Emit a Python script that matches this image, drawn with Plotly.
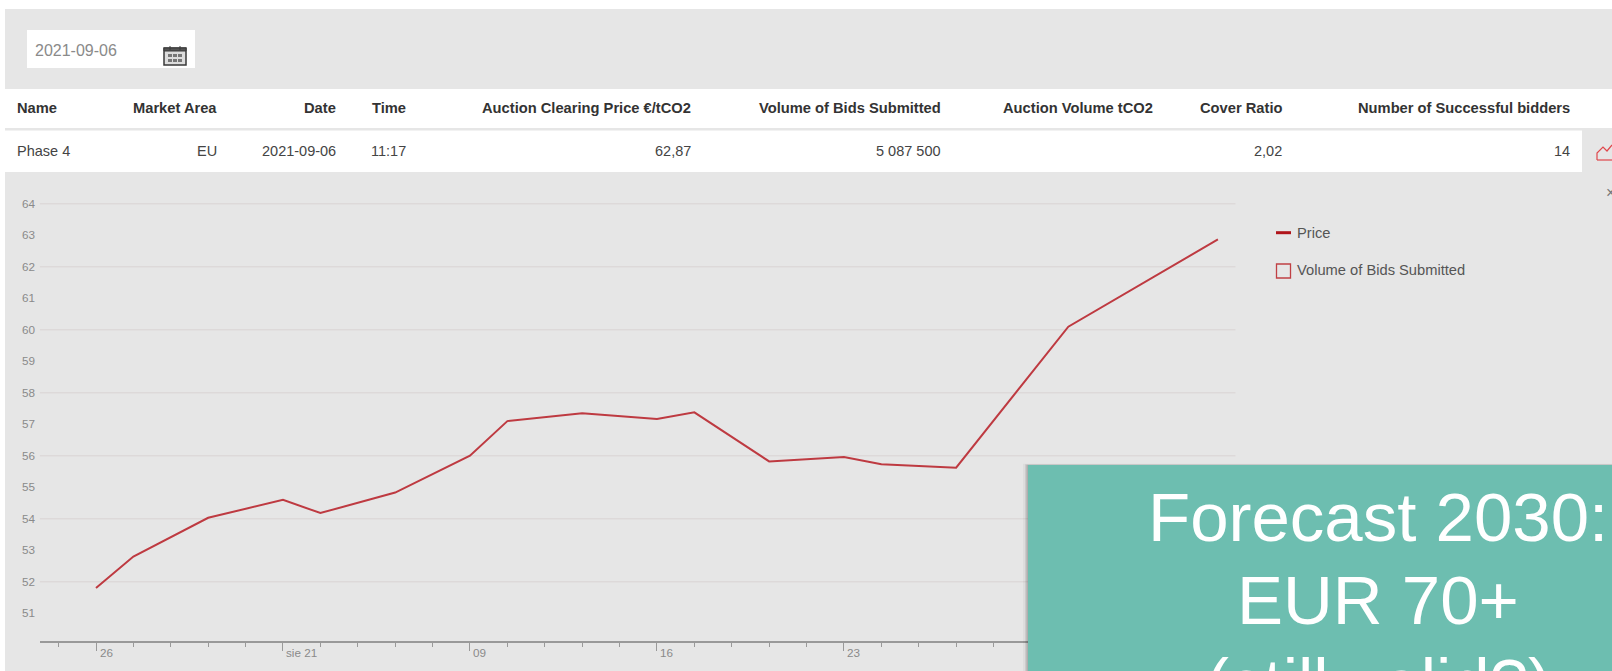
import pandas as pd
import plotly.graph_objects as go

# ---------- data ----------
auction_dates = ["2021-07-26", "2021-07-27", "2021-07-29", "2021-08-02", "2021-08-03", "2021-08-05",
                 "2021-08-09", "2021-08-10", "2021-08-12", "2021-08-16", "2021-08-17", "2021-08-19",
                 "2021-08-23", "2021-08-24", "2021-08-26", "2021-08-31", "2021-09-06"]
price = [51.80, 52.80, 54.03, 54.60, 54.18, 54.83, 56.00, 57.10, 57.35, 57.17, 57.38, 55.82,
         55.96, 55.73, 55.62, 60.10, 62.87]
y_ticks = [51, 52, 53, 54, 55, 56, 57, 58, 59, 60, 61, 62, 63, 64]
grid_values = [52, 54, 56, 58, 60, 62, 64]
major_dates = ["2021-07-26", "2021-08-02", "2021-08-09", "2021-08-16", "2021-08-23", "2021-08-30", "2021-09-06"]
x_label_dates = ["2021-07-26", "2021-08-02", "2021-08-09", "2021-08-16", "2021-08-23"]
x_labels = ["26", "sie 21", "09", "16", "23"]
headers = ["Name", "Market Area", "Date", "Time", "Auction Clearing Price €/tCO2",
           "Volume of Bids Submitted", "Auction Volume tCO2", "Cover Ratio", "Number of Successful bidders"]
row = ["Phase 4", "EU", "2021-09-06", "11:17", "62,87", "5 087 500", "", "2,02", "14"]
forecast_lines = ["Forecast 2030:", "EUR 70+", "(still valid?)"]

# ---------- layout constants ----------
W, H = 1612, 671
FONT = "Liberation Sans"
PANEL = "#E6E6E6"
col_right = [None, 217.5, 336.5, 406.5, 691.5, 942, 1153.5, 1282.5, 1570.5]
def X(p): return p / W
def Y(p): return 1 - p / H

def rect(x0, y0, x1, y1, fill, line=None, lw=0, layer="below", opacity=1):
    return dict(type="rect", xref="paper", yref="paper", x0=X(x0), x1=X(x1), y0=Y(y0), y1=Y(y1),
                fillcolor=fill, line=dict(color=line or fill, width=lw), layer=layer, opacity=opacity)
def seg(x0, y0, x1, y1, color, lw=1, layer="below"):
    return dict(type="line", xref="paper", yref="paper", x0=X(x0), x1=X(x1), y0=Y(y0), y1=Y(y1),
                line=dict(color=color, width=lw), layer=layer)
def label(x, y, text, size, color, anchor="left", bold=False):
    return dict(xref="paper", yref="paper", x=X(x), y=Y(y), xanchor=anchor, yanchor="middle",
                text=f"<b>{text}</b>" if bold else text, showarrow=False, borderpad=0,
                font=dict(family=FONT, size=size, color=color))

shapes = [
    rect(5, 9, W, 89, PANEL),
    rect(5, 128, W, 130.5, PANEL),
    rect(5, 172, W, H, PANEL),
    rect(1582, 130, W, 172, PANEL),
    rect(27, 30, 195, 68, "#FFFFFF"),
    # calendar icon
    rect(164, 48, 186, 65, "#DDDDDD", "#3A3A3A", 1.5),
    rect(164, 48, 186, 51, "#555555", "#3A3A3A", 1),
    seg(170, 46, 170, 50, "#3A3A3A", 1), seg(180, 46, 180, 50, "#3A3A3A", 1),
    rect(168, 54, 172, 57, "#777777"), rect(173, 54, 177, 57, "#777777"), rect(178, 54, 182, 57, "#777777"),
    rect(168, 59, 172, 62, "#777777"), rect(173, 59, 177, 62, "#777777"), rect(178, 59, 182, 62, "#777777"),
    # row chart icon, cut by the window edge
    dict(type="path", xref="paper", yref="paper", layer="below",
         path=f"M {X(1597)} {Y(160)} L {X(1597)} {Y(153)} L {X(1603)} {Y(147)} L {X(1607)} {Y(151)} L {X(1612)} {Y(145)}",
         line=dict(color="#E0474C", width=1.2)),
    seg(1597, 160, W, 160, "#E0474C", 1.2),
    # manual legend
    seg(1276, 232.7, 1291, 232.7, "#B0141A", 3),
    rect(1276.5, 264, 1290.5, 278, "rgba(0,0,0,0)", "#C04044", 1.3),
]
for v in grid_values:
    shapes.append(dict(type="line", xref="x domain", yref="y", x0=0, x1=1, y0=v, y1=v,
                       line=dict(color="#DDD9D9", width=1.5), layer="below"))
# teal box shadow, then box
for off, op in [(5, 0.04), (3, 0.08), (1.5, 0.14)]:
    shapes.append(rect(1028 - off, 465 - off / 4, W, H, "#000000", layer="above", opacity=op))
shapes.append(rect(1028, 465, W, H, "#6DBEB0", layer="above"))

annotations = [label(34, 50, "2021-09-06", 16, "#8A8A8A"), label(1605, 192, "×", 16, "#777777"),
               label(1296, 232.7, "Price", 14.7, "#555555"),
               label(1296, 270, "Volume of Bids Submitted", 14.7, "#555555")]
for i, (h, r) in enumerate(zip(headers, row)):
    if i == 0:
        annotations += [label(15.5, 108, h, 14.7, "#333333", bold=True), label(15.5, 150.7, r, 14.5, "#444444")]
    else:
        annotations.append(label(col_right[i], 108, h, 14.7, "#333333", "right", True))
        if r:
            annotations.append(label(col_right[i], 150.7, r, 14.5, "#444444", "right"))
for d, t in zip(x_label_dates, x_labels):
    annotations.append(dict(xref="x", yref="paper", x=d, y=Y(652), xanchor="left", yanchor="middle", xshift=1.5,
                            text=t, showarrow=False, font=dict(family=FONT, size=11.7, color="#8A8A8A")))
for y, t in zip([517, 600, 683], forecast_lines):
    annotations.append(label(1378, y, t, 69, "#FFFFFF", "center"))

fig = go.Figure(go.Scatter(x=auction_dates, y=price, mode="lines", name="Price",
                           line=dict(color="#BE3A41", width=2), showlegend=False))
fig.update_layout(
    width=W, height=H, margin=dict(l=0, r=0, t=0, b=0, autoexpand=False),
    paper_bgcolor="#FFFFFF", plot_bgcolor="rgba(0,0,0,0)", showlegend=False,
    font=dict(family=FONT), shapes=shapes, annotations=annotations,
    xaxis=dict(domain=[X(39.9), X(1235.5)], range=["2021-07-22 12:00", "2021-09-06 11:17"],
               rangebreaks=[dict(bounds=["sat", "mon"])],
               tickmode="array", tickvals=major_dates, showticklabels=False,
               ticks="outside", ticklen=8, tickcolor="#999999", tickwidth=1,
               minor=dict(tickmode="array",
                          tickvals=[d.strftime("%Y-%m-%d") for d in pd.bdate_range("2021-07-23", "2021-09-06")],
                          ticks="outside", ticklen=4, tickcolor="#999999", tickwidth=1),
               showgrid=False, showline=True, linecolor="#999999", linewidth=1.5, zeroline=False),
    yaxis=dict(domain=[Y(641.2), Y(190)], range=[50.11, 64.44], tickmode="array", tickvals=y_ticks,
               showgrid=False, zeroline=False, showline=False, ticks="", ticklabelstandoff=4,
               tickfont=dict(family=FONT, size=11.7, color="#8A8A8A")),
)
fig.write_html("out.html", config=dict(displayModeBar=False),
               post_script="document.body.style.margin='0';document.body.style.overflow='hidden';")
